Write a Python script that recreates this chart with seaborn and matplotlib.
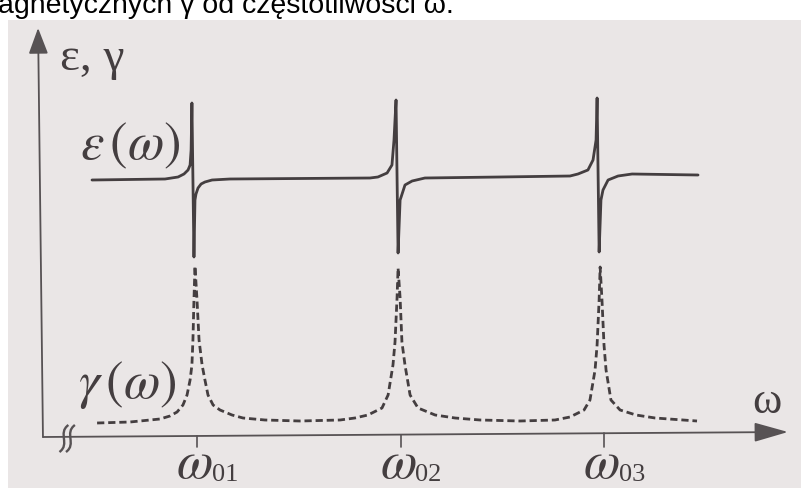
import matplotlib
matplotlib.use("Agg")
import matplotlib.pyplot as plt
import seaborn as sns
import pandas as pd
from matplotlib.patches import Rectangle, PathPatch
from matplotlib.path import Path

# Resonance frequencies and their labels
omega_ticks = [1.0, 2.0, 3.0]
omega_tick_subscripts = ["01", "02", "03"]

# Permittivity eps(omega): flat level with a dispersion spike at each resonance
eps_omega = [0.484, 0.843, 0.907, 0.936, 0.956, 0.966, 0.971, 0.975, 0.985, 0.990,
             0.995, 1.005, 1.020, 1.039, 1.074, 1.162, 1.506, 1.850,
             1.889, 1.934, 1.958, 1.968, 1.978, 1.988, 1.998, 2.003, 2.022, 2.057,
             2.120, 2.489, 2.833,
             2.872, 2.921, 2.946, 2.961, 2.966, 2.976, 2.985, 2.995, 3.020, 3.069,
             3.138, 3.462]
eps_value = [2.57, 2.58, 2.60, 2.63, 2.67, 2.72, 2.87, 3.34, 1.80, 2.37,
             2.43, 2.49, 2.53, 2.55, 2.57, 2.58, 2.585, 2.59,
             2.60, 2.64, 2.72, 2.97, 3.37, 1.84, 2.37, 2.40, 2.52, 2.56,
             2.59, 2.60, 2.61,
             2.63, 2.67, 2.77, 2.97, 3.39, 1.85, 2.37, 2.47, 2.57, 2.61,
             2.63, 2.62]

# Permeability gamma(omega): absorption-like peaks at each resonance
gam_omega = [0.509, 0.671, 0.818, 0.867, 0.902, 0.931, 0.951, 0.966, 0.975, 0.980,
             0.985, 0.990, 1.000, 1.010, 1.025, 1.039, 1.054, 1.079, 1.113, 1.172,
             1.226, 1.334, 1.506, 1.703,
             1.776, 1.840, 1.909, 1.939, 1.963, 1.973, 1.983, 1.988, 1.998, 2.007,
             2.022, 2.047, 2.086, 2.170, 2.268, 2.391, 2.587, 2.759,
             2.833, 2.902, 2.931, 2.956, 2.966, 2.976, 2.981, 2.990, 3.000, 3.010,
             3.034, 3.079, 3.157, 3.251, 3.457]
gam_value = [0.14, 0.15, 0.18, 0.21, 0.25, 0.32, 0.42, 0.57, 0.72, 0.97,
             1.37, 1.71, 1.37, 0.97, 0.72, 0.57, 0.42, 0.32, 0.27, 0.22,
             0.19, 0.17, 0.16, 0.17,
             0.19, 0.22, 0.29, 0.42, 0.72, 0.95, 1.39, 1.69, 1.39, 0.95,
             0.72, 0.42, 0.29, 0.22, 0.19, 0.17, 0.16, 0.17,
             0.20, 0.27, 0.37, 0.67, 0.92, 1.37, 1.70, 1.37, 0.92, 0.67,
             0.37, 0.27, 0.22, 0.19, 0.16]

eps_df = pd.DataFrame({"omega": eps_omega, "value": eps_value})
gam_df = pd.DataFrame({"omega": gam_omega, "value": gam_value})

sns.set_style("white")
plt.rcParams["font.family"] = ["Liberation Serif", "DejaVu Serif"]
plt.rcParams["mathtext.fontset"] = "stix"

ink = "#443e40"
axis_ink = "#575254"
paper = "#eae6e6"

fig = plt.figure(figsize=(8.01, 4.88), dpi=100)
fig.patch.set_facecolor("white")
fig.add_artist(Rectangle((8 / 801, 0), 1, 1 - 20 / 488, transform=fig.transFigure,
                         facecolor=paper, edgecolor="none", zorder=0))

# caption line running above the figure
fig.text(-0.003, 1 - 13 / 488, "agnetycznych γ od częstotliwości ω.",
         fontfamily=["Liberation Sans", "DejaVu Sans"], fontsize=20.5,
         va="baseline", ha="left", color="black")

ax = fig.add_axes([0, 0, 1, 1])
ax.set_facecolor("none")
ax.set_xlim(0.0319, 3.968)
ax.set_ylim(-0.51, 4.37)
ax.axis("off")

sns.lineplot(data=eps_df, x="omega", y="value", ax=ax, sort=False, estimator=None,
             color=ink, lw=2.0, solid_joinstyle="round", zorder=3)
sns.lineplot(data=gam_df, x="omega", y="value", ax=ax, sort=False, estimator=None,
             color=ink, lw=2.0, linestyle=(0, (2.6, 1.4)), zorder=3)

# axes with arrow heads
x0, y0 = 0.243, 0.0
ax.annotate("", xy=(0.219, 4.09), xytext=(x0, y0),
            arrowprops=dict(arrowstyle="-|>,head_length=0.8,head_width=0.3",
                            mutation_scale=20, lw=1.3, color=axis_ink,
                            shrinkA=0, shrinkB=0))
ax.annotate("", xy=(3.904, 0.05), xytext=(x0, y0),
            arrowprops=dict(arrowstyle="-|>,head_length=1.05,head_width=0.3",
                            mutation_scale=20, lw=1.3, color=axis_ink,
                            shrinkA=0, shrinkB=0))

# axis break mark: two wavy strokes across the horizontal axis
for bx in (0.346, 0.378):
    verts = [(bx + 0.022, 0.12), (bx - 0.032, 0.04), (bx + 0.032, -0.07),
             (bx - 0.022, -0.15)]
    ax.add_patch(PathPatch(Path(verts, [Path.MOVETO, Path.CURVE4, Path.CURVE4,
                                        Path.CURVE4]),
                           facecolor="none", edgecolor=axis_ink, lw=1.7, zorder=4))

# resonance ticks and labels
for t, sub in zip(omega_ticks, omega_tick_subscripts):
    ya = y0 + (0.05 - y0) * (t - x0) / (3.904 - x0)
    ax.plot([t, t], [ya, -0.10], color=axis_ink, lw=1.2)
    ax.text(t - 0.012, -0.41, r"$\omega$", fontsize=38, ha="center", va="baseline",
            color=ink)
    ax.text(t + 0.072, -0.44, sub, fontsize=19, ha="left", va="baseline", color=ink)

# curve and axis labels
ax.text(0.327, 4.00, "ε, γ", fontsize=34, ha="left", va="top", color=ink)
ax.text(0.671, 2.91, r"$\varepsilon\,(\omega)$", fontsize=38, ha="center",
        va="center", color=ink)
ax.text(0.656, 0.52, r"$\gamma\,(\omega)$", fontsize=38, ha="center",
        va="center", color=ink)
ax.text(3.80, 0.35, "ω", fontsize=32, ha="center", va="center", color=ink)

fig.savefig("out.png", dpi=100)
